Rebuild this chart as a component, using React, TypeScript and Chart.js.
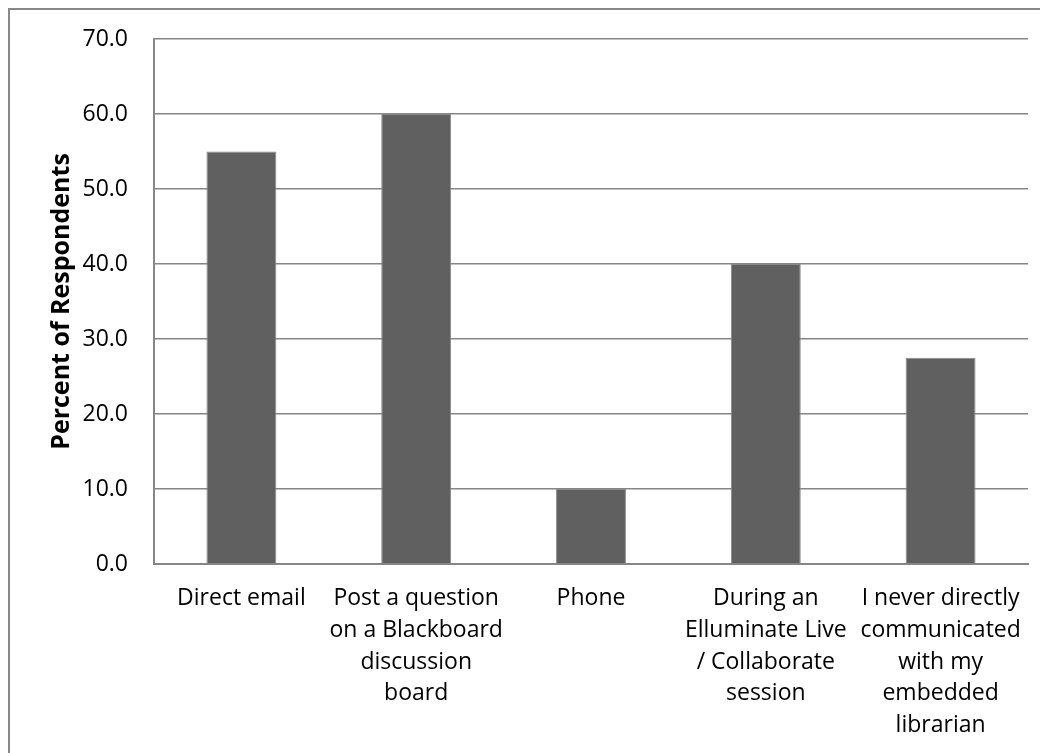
import React, { useEffect, useRef } from "react";
import { Chart, registerables } from "chart.js";

Chart.register(...registerables);

const categories: string[][] = [
  ["Direct email"],
  ["Post a question", "on a Blackboard", "discussion", "board"],
  ["Phone"],
  ["During an", "Elluminate Live", "/ Collaborate", "session"],
  ["I never directly", "communicated", "with my", "embedded", "librarian"],
];

const percentValues: number[] = [55, 60, 10, 40, 27.5];

const yAxisTitle = "Percent of Respondents";
const yMin = 0;
const yMax = 70;
const yStep = 10;

export default function App() {
  const canvasRef = useRef<HTMLCanvasElement | null>(null);

  useEffect(() => {
    document.documentElement.style.overflow = "hidden";
    document.body.style.overflow = "hidden";
    const canvas = canvasRef.current;
    if (!canvas) return;
    const chart = new Chart(canvas, {
      type: "bar",
      data: {
        labels: categories,
        datasets: [
          {
            data: percentValues,
            backgroundColor: "#606060",
            borderColor: "#8a8a8a",
            borderWidth: 1,
            barPercentage: 0.4,
            categoryPercentage: 1,
          },
        ],
      },
      options: {
        animation: false,
        responsive: false,
        maintainAspectRatio: false,
        layout: { padding: { top: 29, right: 18, left: 0, bottom: 0 } },
        plugins: {
          legend: { display: false },
          tooltip: { enabled: false },
        },
        scales: {
          x: {
            grid: { display: false, drawTicks: false },
            border: { display: true, color: "#868686", width: 2 },
            ticks: {
              color: "#000000",
              font: { family: "'Open Sans', sans-serif", size: 23, lineHeight: 31.7 / 23 },
              padding: 19,
              maxRotation: 0,
              minRotation: 0,
              autoSkip: false,
            },
            afterFit: (scale: any) => {
              scale.height = 216;
              scale.paddingLeft = 0;
              scale.paddingRight = 0;
            },
          },
          y: {
            min: yMin,
            max: yMax,
            grid: {
              color: "#868686",
              lineWidth: 1.5,
              drawTicks: false,
            },
            border: { display: true, color: "#868686", width: 2 },
            ticks: {
              stepSize: yStep,
              color: "#000000",
              font: { family: "'Open Sans', sans-serif", size: 23 },
              padding: 26,
              callback: (v: any) => Number(v).toFixed(1),
            },
            title: {
              display: true,
              text: yAxisTitle,
              color: "#000000",
              font: { family: "'Open Sans', sans-serif", size: 25, weight: "bold" },
              padding: { top: 37, bottom: 0 },
            },
            afterFit: (scale: any) => {
              scale.width = 144;
              scale.paddingTop = 0;
              scale.paddingBottom = 0;
            },
          },
        },
      },
    });
    return () => chart.destroy();
  }, []);

  return (
    <div
      style={{
        width: 1040,
        height: 780,
        border: "2px solid #888888",
        boxSizing: "border-box",
        background: "#ffffff",
      }}
    >
      <canvas ref={canvasRef} width={1036} height={770} style={{ display: "block" }} />
    </div>
  );
}
